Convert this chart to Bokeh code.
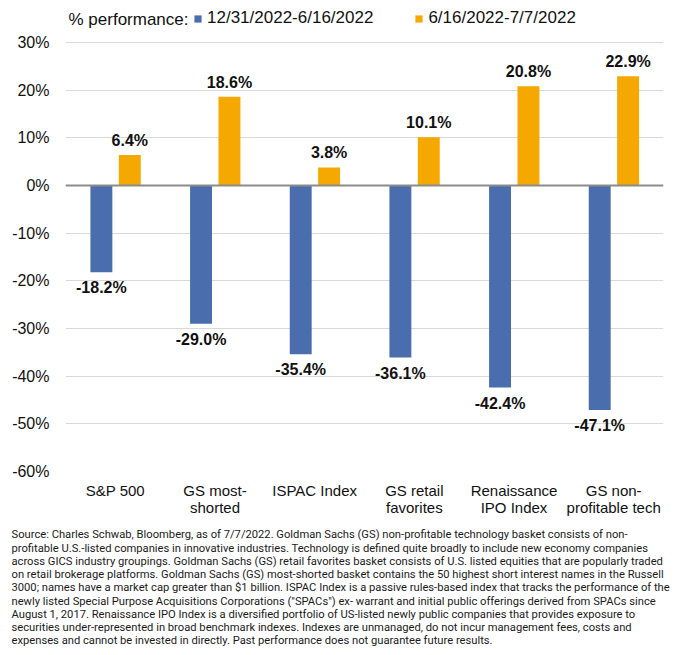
from bokeh.plotting import figure
from bokeh.models import (ColumnDataSource, FactorRange, Range1d, LabelSet, Label, Legend, LegendItem,
                          Span, FixedTicker, PrintfTickFormatter, Title)
from bokeh.core.properties import value
from bokeh.transform import dodge
from bokeh.embed import file_html
from bokeh.resources import INLINE

categories = ["S&P 500", "GS most-\nshorted", "ISPAC Index", "GS retail\nfavorites",
              "Renaissance\nIPO Index", "GS non-\nprofitable tech"]
series1_name = "12/31/2022-6/16/2022"
series2_name = "6/16/2022-7/7/2022"
series1 = [-18.2, -29.0, -35.4, -36.1, -42.4, -47.1]
series2 = [6.4, 18.6, 3.8, 10.1, 20.8, 22.9]
y_ticks = [-60, -50, -40, -30, -20, -10, 0, 10, 20, 30]
legend_title = "% performance:"
footnote = [
    "Source: Charles Schwab, Bloomberg, as of 7/7/2022.  Goldman Sachs (GS) non-profitable technology basket consists of non-",
    "profitable U.S.-listed companies in innovative industries. Technology is defined quite broadly to include new economy companies",
    "across GICS industry groupings. Goldman Sachs (GS) retail favorites basket consists of U.S. listed equities that are popularly traded",
    "on retail brokerage platforms. Goldman Sachs (GS) most-shorted basket contains the 50 highest short interest names in the Russell",
    "3000; names have a market cap greater than $1 billion. ISPAC Index is a passive rules-based index that tracks the performance of the",
    "newly listed Special Purpose Acquisitions Corporations (\"SPACs\") ex- warrant and initial public offerings derived from SPACs since",
    "August 1, 2017. Renaissance IPO Index is a diversified portfolio of US-listed newly public companies that provides exposure to",
    "securities under-represented in broad benchmark indexes. Indexes are unmanaged, do not incur management fees, costs and",
    "expenses and cannot be invested in directly. Past performance does not guarantee future results.",
]

BLUE = "#4A6EAD"
ORANGE = "#F5A800"
FONT = "Liberation Sans"
TXT = "#111111"

src = ColumnDataSource(dict(
    cat=categories, s1=series1, s2=series2,
    l1=[f"{v:.1f}%" for v in series1], l2=[f"{v:.1f}%" for v in series2],
))

# frame spans page y 8..471; 30% gridline at y 42
p = figure(x_range=FactorRange(*categories), y_range=Range1d(-60, 37.13),
           frame_width=598, frame_height=463, output_backend="svg", toolbar_location=None,
           min_border_left=65, min_border_right=17, min_border_top=8, min_border_bottom=4)
p.outline_line_color = None

r1 = p.vbar(x=dodge("cat", -0.14, range=p.x_range), top="s1", width=0.22, source=src,
            color=BLUE, line_color=None)
r2 = p.vbar(x=dodge("cat", 0.145, range=p.x_range), top="s2", width=0.22, source=src,
            color=ORANGE, line_color=None)

p.add_layout(Span(location=0, dimension="width", line_color="#8c8c8c", line_width=2))

p.add_layout(LabelSet(x=dodge("cat", -0.14, range=p.x_range), y="s1", text="l1", source=src,
                      text_align="center", text_baseline="top", y_offset=-7,
                      text_font=value(FONT), text_font_size="16px", text_font_style="bold",
                      text_color=TXT))
p.add_layout(LabelSet(x=dodge("cat", 0.145, range=p.x_range), y="s2", text="l2", source=src,
                      text_align="center", text_baseline="bottom", y_offset=6,
                      text_font=value(FONT), text_font_size="16px", text_font_style="bold",
                      text_color=TXT))

p.yaxis.ticker = FixedTicker(ticks=y_ticks)
p.yaxis.formatter = PrintfTickFormatter(format="%d%%")
p.ygrid.ticker = FixedTicker(ticks=y_ticks)
p.ygrid.grid_line_color = "#d9d9d9"
p.xgrid.grid_line_color = None
for ax in (p.xaxis[0], p.yaxis[0]):
    ax.axis_line_color = None
    ax.major_tick_line_color = None
    ax.minor_tick_line_color = None
    ax.major_label_text_font = FONT
    ax.major_label_text_color = TXT
p.yaxis.major_label_text_font_size = "16px"
p.xaxis.major_label_text_font_size = "15px"
p.xaxis.major_label_text_line_height = 1.05
p.yaxis.major_label_standoff = 10
p.xaxis.major_label_standoff = 4
p.x_range.range_padding = 0

legend = Legend(items=[LegendItem(label=series1_name, renderers=[r1]),
                       LegendItem(label=series2_name, renderers=[r2])],
                orientation="horizontal", location=(128, 443), padding=0, margin=0,
                glyph_width=9, glyph_height=9, label_standoff=5, spacing=41,
                label_text_font=FONT, label_text_font_size="17px", label_text_color=TXT,
                label_height=18, border_line_color=None, background_fill_alpha=0)
p.add_layout(legend, "center")

p.add_layout(Label(x=3, y=452, x_units="screen", y_units="screen", text=legend_title,
                   text_font=FONT, text_font_size="17px", text_baseline="middle",
                   text_color=TXT))

note = Title(text="\n".join(footnote), align="left", offset=-54, standoff=14,
             text_font="Roboto", text_font_size="11.2px",
             text_font_style="normal", text_line_height=1.02, text_color="#1a1a1a")
p.add_layout(note, "below")

open("out.html", "w").write(file_html(p, INLINE))
